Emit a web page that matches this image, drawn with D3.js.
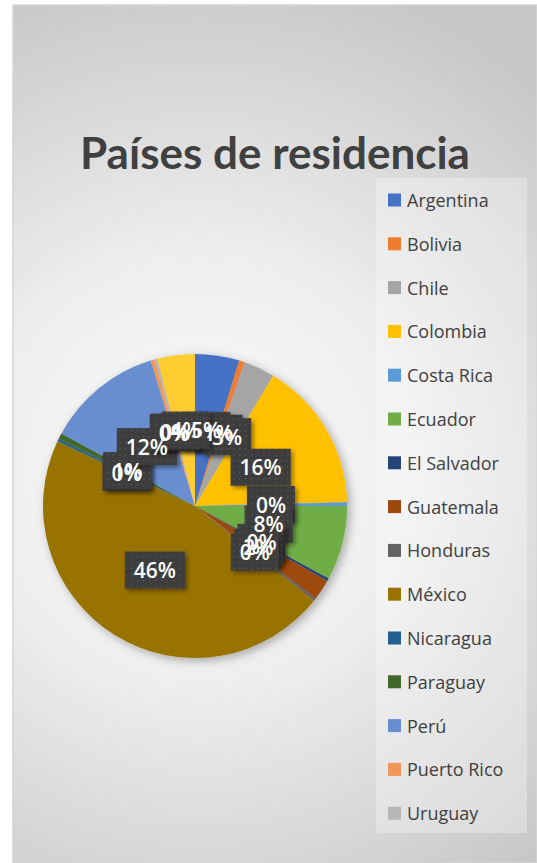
<!DOCTYPE html>
<html>
<head>
<meta charset="utf-8">
<script src="https://cdn.jsdelivr.net/npm/d3@7"></script>
<style>
  html, body { margin: 0; padding: 0; background: #fff; }
  svg { display: block; }
</style>
</head>
<body>
<div id="chart"></div>
<script>
// data (percent of respondents)
const paises = ['Argentina', 'Bolivia', 'Chile', 'Colombia', 'Costa Rica', 'Ecuador',
    'El Salvador', 'Guatemala', 'Honduras', 'México', 'Nicaragua', 'Paraguay',
    'Perú', 'Puerto Rico', 'Uruguay', 'Venezuela'];
const valores = [4.7, 0.6, 3.3, 16.0, 0.4, 7.9, 0.3, 2.2, 0.3, 46.3, 0.3, 0.6, 12.4, 0.4, 0.3, 4.0];
const titulo = 'Países de residencia';

// office palette
const paleta = ['#4472C4', '#ED7D31', '#A5A5A5', '#FFC000', '#5B9BD5', '#70AD47',
    '#264478', '#9E480E', '#636363', '#997300', '#255E91', '#43682B',
    '#698ED0', '#F1975A', '#B7B7B7', '#FFCD33'];

const W = 537, H = 863;
const cx = 195, cy = 506, radius = 152;

const svg = d3.select('#chart').append('svg')
    .attr('width', W)
    .attr('height', H);

const defs = svg.append('defs');

const bg = defs.append('radialGradient')
    .attr('id', 'bg')
    .attr('gradientUnits', 'userSpaceOnUse')
    .attr('cx', 200).attr('cy', 470).attr('r', 520);
bg.append('stop').attr('offset', 0).attr('stop-color', '#f8f8f8');
bg.append('stop').attr('offset', 0.4).attr('stop-color', '#efefef');
bg.append('stop').attr('offset', 1).attr('stop-color', '#c6c6c6');

const dots = defs.append('pattern')
    .attr('id', 'dots')
    .attr('width', 6).attr('height', 6)
    .attr('patternUnits', 'userSpaceOnUse');
dots.append('rect').attr('width', 6).attr('height', 6).attr('fill', '#3d3d3d');
dots.append('rect').attr('x', 2).attr('y', 2).attr('width', 1.5).attr('height', 1.5).attr('fill', '#525252');

const pieShadow = defs.append('filter').attr('id', 'pieShadow')
    .attr('x', '-20%').attr('y', '-20%').attr('width', '140%').attr('height', '140%');
pieShadow.append('feDropShadow')
    .attr('dx', 3).attr('dy', 3).attr('stdDeviation', 5)
    .attr('flood-color', '#000').attr('flood-opacity', 0.3);

const boxShadow = defs.append('filter').attr('id', 'boxShadow')
    .attr('x', '-30%').attr('y', '-30%').attr('width', '160%').attr('height', '160%');
boxShadow.append('feDropShadow')
    .attr('dx', 2.5).attr('dy', 2.5).attr('stdDeviation', 2)
    .attr('flood-color', '#000').attr('flood-opacity', 0.4);

// chart area
svg.append('rect')
    .attr('x', 13).attr('y', 5)
    .attr('width', W - 13).attr('height', H - 5)
    .attr('fill', 'url(#bg)')
    .attr('stroke', '#d4d4d4')
    .attr('stroke-width', 1.5);

svg.append('text')
    .attr('x', 275)
    .attr('y', 169)
    .attr('text-anchor', 'middle')
    .style('font-family', 'Lato, "Open Sans", sans-serif')
    .style('font-weight', 'bold')
    .style('font-size', '44px')
    .attr('fill', '#404040')
    .text(titulo);

// pie
const data = paises.map((p, i) => ({ pais: p, valor: valores[i] }));
const total = d3.sum(valores);
const color = d3.scaleOrdinal().domain(paises).range(paleta);

const pie = d3.pie().sort(null).value(d => d.valor);
const arc = d3.arc().innerRadius(0).outerRadius(radius);
const labelArc = d3.arc().innerRadius(radius * 0.5).outerRadius(radius * 0.5);
const arcs = pie(data);

const g = svg.append('g')
    .attr('transform', `translate(${cx},${cy})`);

g.append('g')
    .attr('filter', 'url(#pieShadow)')
    .selectAll('path')
    .data(arcs)
    .enter()
        .append('path')
        .attr('d', arc)
        .attr('fill', d => color(d.data.pais));

const pct = d => Math.round(d.data.valor / total * 100) + '%';

// boxes first, texts on top (as excel does)
const labels = arcs.map(d => {
    const [x, y] = labelArc.centroid(d);
    return { d, x, y, txt: pct(d) };
});

const labelFont = '"Open Sans", Lato, sans-serif';
const labelSize = 21;
const measure = g.append('text')
    .style('font-family', labelFont)
    .style('font-weight', 600)
    .style('font-size', labelSize + 'px');
labels.forEach(l => {
    measure.text(l.txt);
    l.w = measure.node().getComputedTextLength();
});
measure.remove();

g.selectAll('rect.box')
    .data(labels)
    .enter()
        .append('rect')
        .attr('class', 'box')
        .attr('x', l => l.x - l.w / 2 - 9)
        .attr('y', l => l.y - 19)
        .attr('width', l => l.w + 18)
        .attr('height', 37)
        .attr('fill', 'url(#dots)')
        .attr('filter', 'url(#boxShadow)');

g.selectAll('text.lbl')
    .data(labels)
    .enter()
        .append('text')
        .attr('class', 'lbl')
        .attr('x', l => l.x)
        .attr('y', l => l.y + 7.5)
        .attr('text-anchor', 'middle')
        .style('font-family', labelFont)
        .style('font-weight', 600)
        .style('font-size', labelSize + 'px')
        .attr('fill', '#fff')
        .text(l => l.txt);

// legend
const legend = { x: 376, y: 178, w: 151, h: 655, step: 43.8, first: 22 };
svg.append('rect')
    .attr('x', legend.x).attr('y', legend.y)
    .attr('width', legend.w).attr('height', legend.h)
    .attr('fill', '#fff')
    .attr('fill-opacity', 0.3);

const fits = Math.floor((legend.h - legend.first) / legend.step) + 1;
const items = svg.append('g')
    .selectAll('g')
    .data(paises.slice(0, Math.min(fits, paises.length)))
    .enter()
        .append('g')
        .attr('transform', (p, i) => `translate(${legend.x + 12},${legend.y + legend.first + i * legend.step})`);

items.append('rect')
    .attr('x', 0).attr('y', -6.5)
    .attr('width', 13).attr('height', 13)
    .attr('fill', p => color(p));

items.append('text')
    .attr('x', 19)
    .attr('y', 7)
    .style('font-family', labelFont)
    .style('font-size', '18px')
    .attr('fill', '#404040')
    .text(p => p);
</script>
</body>
</html>
